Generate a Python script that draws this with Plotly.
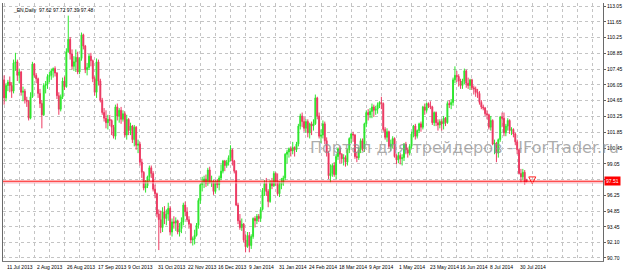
import pandas as pd
import plotly.graph_objects as go

# ---------------- data ----------------
OPEN = [
    106.5,104.9,106.0,106.3,106.0,105.5,108.0,108.1,106.9,107.2,
    105.4,105.5,104.7,104.6,103.1,105.0,107.9,106.9,106.6,105.3,
    104.4,103.4,106.0,106.1,106.8,106.9,107.3,107.5,107.1,105.1,
    103.9,105.0,106.4,105.9,109.0,110.1,108.8,107.7,108.1,108.5,
    107.2,108.4,110.5,109.5,107.4,107.6,108.6,108.2,106.6,105.4,
    108.1,106.4,104.7,103.6,103.1,102.7,103.0,102.9,102.3,101.5,
    104.1,103.3,103.8,103.0,103.5,101.6,103.0,102.0,102.4,101.2,
    102.3,100.7,100.8,99.2,98.3,96.9,97.1,97.9,98.7,98.2,
    96.8,96.4,94.6,94.1,93.4,94.8,94.2,94.6,95.1,93.0,
    93.9,93.8,94.0,93.0,93.3,93.9,95.4,94.8,94.1,93.7,
    92.3,92.4,92.7,93.6,95.8,97.2,97.4,97.7,97.3,98.5,
    97.4,97.5,96.6,97.5,97.2,97.8,98.4,99.3,98.9,99.2,
    99.6,100.3,99.3,98.4,95.4,94.0,93.4,93.7,92.3,91.7,
    92.7,91.8,92.6,94.2,94.0,94.4,94.2,95.0,96.7,97.3,
    96.6,95.7,97.4,97.1,98.2,97.5,96.4,97.2,97.4,97.8,
    99.9,100.1,100.4,100.2,100.5,100.3,100.8,102.4,103.3,102.8,
    102.2,102.8,101.8,102.6,102.4,102.6,104.9,103.3,101.5,101.6,
    102.6,101.1,100.0,98.0,98.2,98.9,98.1,99.7,100.4,99.9,
    99.5,99.6,99.2,100.3,101.3,101.7,101.6,99.7,99.6,100.3,
    101.1,100.4,102.6,103.6,103.4,103.7,104.1,103.8,103.9,104.3,
    104.5,104.4,102.1,101.4,101.9,100.6,100.8,101.3,99.7,99.4,
    99.8,99.5,99.6,100.8,100.3,100.0,100.6,101.7,102.4,101.5,
    102.0,102.6,102.3,104.1,103.8,104.4,104.2,104.1,102.7,103.6,
    102.7,102.5,102.8,102.6,103.1,102.7,104.4,104.3,104.5,106.5,
    106.9,106.8,106.4,106.0,106.4,107.3,106.2,106.0,106.5,105.8,
    105.7,105.4,105.3,104.5,104.1,104.0,103.5,103.4,102.3,102.9,
    100.8,100.9,100.0,101.2,103.2,103.1,101.8,102.4,102.9,102.0,
    102.1,101.7,101.0,100.3,98.2,97.9,98.3,97.62,
]
HIGH = [
    106.9,106.2,106.5,106.8,106.3,108.3,108.9,108.3,107.5,107.3,
    105.9,105.7,105.0,104.7,105.4,108.1,108.0,107.1,106.7,105.7,
    104.7,106.2,106.4,107.0,107.2,107.5,107.6,107.7,107.2,105.4,
    105.2,106.7,106.8,109.3,112.2,110.3,109.2,108.6,109.2,109.0,
    108.5,110.7,110.6,109.6,108.0,108.8,108.9,108.3,106.8,108.4,
    108.3,106.6,104.9,104.0,103.8,103.4,103.4,103.0,102.5,104.3,
    104.4,104.0,104.1,103.8,103.7,103.4,103.1,102.7,102.5,102.5,
    102.4,101.2,101.0,99.5,98.4,97.6,98.0,98.9,98.9,98.4,
    97.2,96.5,95.0,94.9,95.2,95.3,95.0,95.6,95.3,94.2,
    94.4,94.3,94.1,93.8,94.3,95.6,95.7,95.2,94.4,93.8,
    92.6,93.2,93.8,96.0,97.3,97.9,98.0,98.1,98.7,98.8,
    98.0,97.6,97.6,97.7,98.0,99.0,99.4,99.4,99.4,99.8,
    100.7,100.4,99.4,98.5,95.6,94.6,94.2,93.8,92.8,93.0,
    93.0,92.8,94.3,94.4,94.6,94.6,95.2,96.9,97.6,97.8,
    96.8,97.6,97.8,98.4,98.3,98.2,97.5,97.8,98.0,100.0,
    100.3,100.5,100.6,101.0,100.6,101.0,102.6,103.5,103.6,103.2,
    103.0,103.0,102.7,102.8,103.0,105.2,105.0,103.6,102.1,102.9,
    102.8,101.4,100.2,99.0,99.1,99.2,99.9,100.5,100.6,100.0,
    99.9,99.8,100.4,101.4,101.8,101.9,101.7,100.1,100.5,101.3,
    101.3,102.7,103.8,103.9,104.0,104.4,104.3,104.2,104.5,104.6,
    105.0,104.5,102.3,102.2,102.0,101.2,101.5,101.4,99.9,100.1,
    100.0,99.9,100.9,101.0,100.5,100.8,101.9,102.5,102.6,102.1,
    102.7,102.8,104.2,104.4,104.5,104.5,104.6,104.2,103.7,103.7,
    103.0,103.0,103.0,103.3,103.2,104.6,104.7,104.8,106.7,107.7,
    107.3,107.0,106.6,106.6,107.5,107.4,106.7,106.6,106.6,106.0,
    105.9,105.7,105.5,104.7,104.3,104.1,103.8,103.5,103.3,103.0,
    101.2,101.0,101.3,103.3,103.6,103.6,102.6,103.1,103.0,102.3,
    102.2,101.8,101.2,100.4,98.6,98.6,98.5,97.72,
]
LOW = [
    104.3,104.6,105.5,105.4,104.9,105.3,107.3,106.4,106.2,105.1,
    104.6,104.4,104.1,102.9,103.0,104.9,106.7,106.2,104.9,104.0,
    102.2,103.3,105.3,105.7,106.3,106.5,106.7,106.8,104.8,103.4,
    103.7,104.8,105.6,105.8,108.9,108.3,107.4,107.3,107.2,107.0,
    107.0,108.2,109.2,107.1,106.9,107.4,107.7,106.3,105.1,104.9,
    106.0,104.5,103.4,102.8,102.2,102.1,102.4,101.6,101.3,101.2,
    102.9,102.7,102.6,102.8,101.4,101.2,101.6,101.6,100.9,100.6,
    100.3,100.0,98.9,97.8,96.7,96.5,96.9,97.5,97.8,96.6,
    96.0,94.3,91.4,92.9,93.0,93.7,93.6,94.0,92.7,92.6,
    93.3,93.1,92.8,92.6,92.9,93.6,94.4,93.9,93.3,92.0,
    91.8,91.9,92.6,93.3,95.5,96.6,96.9,97.0,97.1,97.3,
    97.0,96.3,96.4,96.9,96.7,97.6,98.2,98.4,98.7,98.9,
    99.3,98.9,98.2,95.3,93.7,93.2,93.1,92.1,91.2,91.6,
    91.2,91.5,92.4,93.4,93.7,93.9,93.9,94.9,96.2,96.2,
    95.2,95.6,96.8,97.0,97.1,96.2,96.1,96.8,97.1,97.6,
    99.1,99.6,99.7,99.9,99.7,100.1,100.6,102.1,102.3,101.9,
    101.8,101.4,101.3,101.6,102.0,102.5,103.0,101.3,100.9,101.3,
    100.8,99.7,97.7,97.4,97.9,97.9,97.7,99.4,99.1,99.1,
    98.9,98.8,98.9,100.0,100.9,101.0,99.5,99.2,99.4,100.0,
    100.2,100.1,102.3,102.9,103.1,103.1,103.2,103.4,103.5,104.0,
    103.9,101.9,101.2,101.0,100.4,100.2,100.4,99.6,99.0,99.1,
    99.0,98.9,99.3,99.9,99.6,99.8,100.4,101.4,101.2,101.3,
    101.8,101.9,102.1,103.4,103.6,104.0,103.9,102.5,102.4,102.4,
    102.0,102.2,102.0,102.1,102.4,102.6,104.0,103.9,104.2,106.2,
    106.3,105.9,105.7,105.7,106.1,105.8,105.7,105.6,105.6,105.2,
    105.0,104.9,104.3,103.9,103.8,103.3,103.0,102.1,102.0,100.7,
    99.9,99.2,99.6,101.0,102.3,101.5,101.5,102.0,101.7,101.6,
    101.4,100.7,99.9,98.1,97.4,97.6,97.2,97.39,
]
CLOSE = [
    104.9,106.0,106.3,106.0,105.5,108.0,108.1,106.9,107.2,105.4,
    105.5,104.7,104.6,103.1,105.0,107.9,106.9,106.6,105.3,104.4,
    103.4,106.0,106.1,106.8,106.9,107.3,107.5,107.1,105.1,103.9,
    105.0,106.4,105.9,109.0,110.1,108.8,107.7,108.1,108.5,107.2,
    108.4,110.5,109.5,107.4,107.6,108.6,108.2,106.6,105.4,108.1,
    106.4,104.7,103.6,103.1,102.7,103.0,102.9,102.3,101.5,104.1,
    103.3,103.8,103.0,103.5,101.6,103.0,102.0,102.4,101.2,102.3,
    100.7,100.8,99.2,98.3,96.9,97.1,97.9,98.7,98.2,96.8,
    96.4,94.6,94.1,93.4,94.8,94.2,94.6,95.1,93.0,93.9,
    93.8,94.0,93.0,93.3,93.9,95.4,94.8,94.1,93.7,92.3,
    92.4,92.7,93.6,95.8,97.2,97.4,97.7,97.3,98.5,97.4,
    97.5,96.6,97.5,97.2,97.8,98.4,99.3,98.9,99.2,99.6,
    100.3,99.3,98.4,95.4,94.0,93.4,93.7,92.3,91.7,92.7,
    91.8,92.6,94.2,94.0,94.4,94.2,95.0,96.7,97.3,96.6,
    95.7,97.4,97.1,98.2,97.5,96.4,97.2,97.4,97.8,99.9,
    100.1,100.4,100.2,100.5,100.3,100.8,102.4,103.3,102.8,102.2,
    102.8,101.8,102.6,102.4,102.6,104.9,103.3,101.5,101.6,102.6,
    101.1,100.0,98.0,98.2,98.9,98.1,99.7,100.4,99.9,99.5,
    99.6,99.2,100.3,101.3,101.7,101.6,99.7,99.6,100.3,101.1,
    100.4,102.6,103.6,103.4,103.7,104.1,103.8,103.9,104.3,104.5,
    104.4,102.1,101.4,101.9,100.6,100.8,101.3,99.7,99.4,99.8,
    99.5,99.6,100.8,100.3,100.0,100.6,101.7,102.4,101.5,102.0,
    102.6,102.3,104.1,103.8,104.4,104.2,104.1,102.7,103.6,102.7,
    102.5,102.8,102.6,103.1,102.7,104.4,104.3,104.5,106.5,106.9,
    106.8,106.4,106.0,106.4,107.3,106.2,106.0,106.5,105.8,105.7,
    105.4,105.3,104.5,104.1,104.0,103.5,103.4,102.3,102.9,100.8,
    100.9,100.0,101.2,103.2,103.1,101.8,102.4,102.9,102.0,102.1,
    101.7,101.0,100.3,98.2,97.9,98.3,97.4,97.48,
]

HOLIDAYS = ["2013-12-25", "2014-01-01"]
X_LABELS = ["11 Jul 2013", "2 Aug 2013", "26 Aug 2013", "17 Sep 2013", "9 Oct 2013",
            "31 Oct 2013", "22 Nov 2013", "16 Dec 2013", "9 Jan 2014", "31 Jan 2014",
            "24 Feb 2014", "18 Mar 2014", "9 Apr 2014", "1 May 2014", "23 May 2014",
            "16 Jun 2014", "8 Jul 2014", "30 Jul 2014"]
Y_TICKS = [113.05, 111.65, 110.25, 108.85, 107.45, 106.05, 104.65, 103.25, 101.85,
           100.45, 99.05, 97.65, 96.25, 94.85, 93.45, 92.05, 90.70]
# the 97.65 label sits under the red price box in the reference
Y_TICKTEXT = ["113.05", "111.65", "110.25", "108.85", "107.45", "106.05", "104.65",
              "103.25", "101.85", "100.45", "99.05", "", "96.25", "94.85",
              "93.45", "92.10", "90.70"]
TITLE = "_EN,Daily  97.62 97.72 97.39 97.48"
PRICE_LINE = 97.51
PRICE_LINE2 = 97.36
ARROW_X = [280]
ARROW_Y = [97.27]
WATERMARK = "Портал для трейдеров - IForTrader.ru"

n = len(CLOSE)
days = pd.bdate_range("2013-07-11", periods=n + 5)
days = [d for d in days if d.strftime("%Y-%m-%d") not in HOLIDAYS][:n]
idx = list(range(n))
label_pos = [days.index(pd.Timestamp(lab)) for lab in X_LABELS]

FONT = "Liberation Sans"
fig = go.Figure()
fig.add_trace(go.Candlestick(
    x=idx, open=OPEN, high=HIGH, low=LOW, close=CLOSE,
    increasing=dict(line=dict(color="#2ee62e", width=1), fillcolor="#1ee01e"),
    decreasing=dict(line=dict(color="#ec3a62", width=1), fillcolor="#e3124a"),
    whiskerwidth=0, hoverinfo="skip",
))
fig.add_trace(go.Scatter(
    x=ARROW_X, y=ARROW_Y, mode="markers",
    marker=dict(symbol="arrow-down-open", size=7, color="#ff2020",
                line=dict(width=1, color="#ff2020")),
    hoverinfo="skip",
))

annotations = []
for lab, p in zip(X_LABELS, label_pos):
    annotations.append(dict(x=p, xref="x", y=0, yref="paper", text=lab, showarrow=False,
                            xanchor="left", yanchor="top", xshift=1, yshift=-1,
                            font=dict(size=5, color="#000000", family=FONT)))
annotations.append(dict(x=0, xref="paper", y=1, yref="paper", text=TITLE, showarrow=False,
                        xanchor="left", yanchor="top", xshift=8, yshift=-2,
                        font=dict(size=5, color="#000000", family=FONT)))
annotations.append(dict(x=1, xref="paper", y=PRICE_LINE, yref="y", text=str(PRICE_LINE),
                        showarrow=False, xanchor="left", yanchor="middle", xshift=1,
                        bgcolor="#ff0000", borderpad=1,
                        font=dict(size=5, color="#ffffff", family=FONT)))
annotations.append(dict(x=0.508, xref="paper", y=0.44, yref="paper", text=WATERMARK,
                        showarrow=False, xanchor="left", yanchor="middle",
                        font=dict(size=16, color="rgba(145,145,145,0.75)", family="DejaVu Sans")))

fig.update_layout(
    width=627, height=271,
    margin=dict(l=3, r=24, t=3, b=10),
    paper_bgcolor="white", plot_bgcolor="white",
    showlegend=False,
    annotations=annotations,
    shapes=[
        dict(type="line", xref="paper", x0=0, x1=1, yref="y", y0=PRICE_LINE, y1=PRICE_LINE,
             line=dict(color="#ff0000", width=1)),
        dict(type="line", xref="paper", x0=0, x1=1, yref="y", y0=PRICE_LINE2, y1=PRICE_LINE2,
             line=dict(color="#f6a8b4", width=1)),
    ],
    xaxis=dict(
        range=[-0.6, 317.5], tickmode="array", tickvals=list(range(0, 320, 8)),
        showticklabels=False, ticks="", showgrid=True, gridcolor="#c4c4c4",
        griddash="dot", gridwidth=1, zeroline=False, showline=True,
        linecolor="#7a7a7a", linewidth=1, rangeslider=dict(visible=False),
    ),
    yaxis=dict(
        side="right", range=[90.43, 113.32], tickmode="array",
        tickvals=Y_TICKS, ticktext=Y_TICKTEXT, ticks="outside", ticklen=2,
        tickcolor="#606060", tickfont=dict(size=5, color="#000000", family=FONT),
        showgrid=True, gridcolor="#c4c4c4", griddash="dot", gridwidth=1,
        zeroline=False, showline=True, mirror=True, linecolor="#6a6a6a", linewidth=1,
    ),
)
fig.write_html("out.html", config={"displayModeBar": False})
